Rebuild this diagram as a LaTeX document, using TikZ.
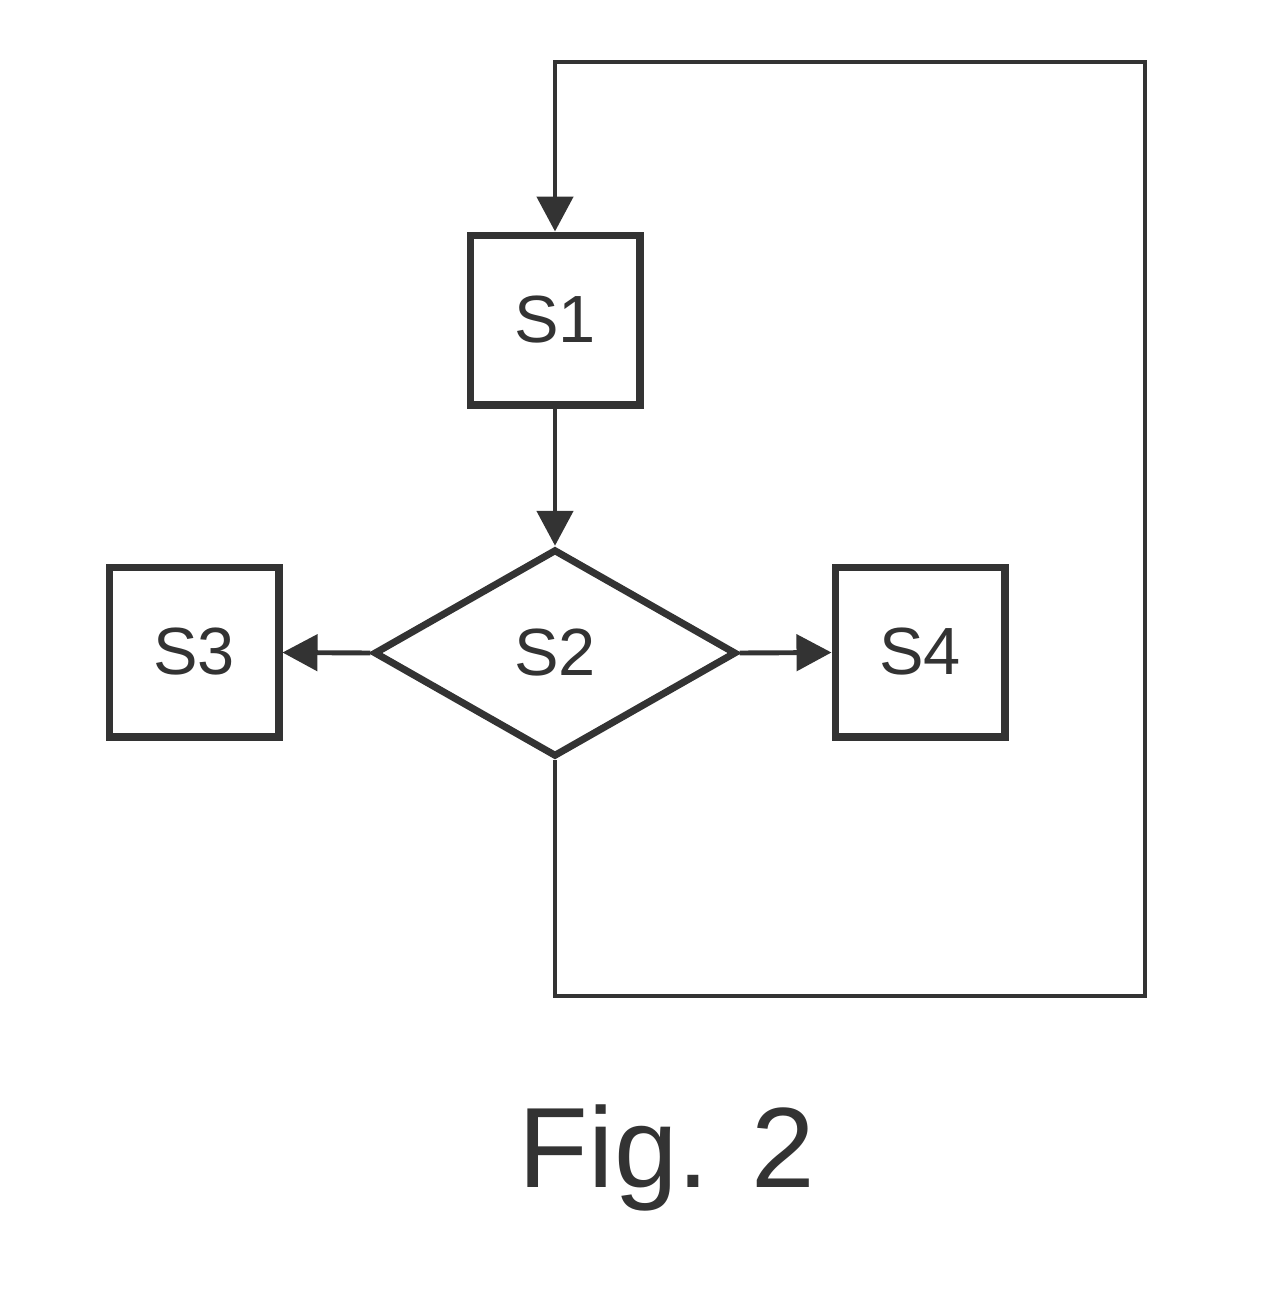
\documentclass[tikz,border=0pt]{standalone}
\usepackage{fontspec}
\setmainfont{Liberation Sans}
\usetikzlibrary{positioning, arrows.meta, shapes.geometric}

\definecolor{ink}{HTML}{333333}
\tikzset{
  stepbox/.style={rectangle, draw=ink, line width=4pt, minimum width=3.4cm, minimum height=3.4cm, inner sep=0pt, text=ink, font=\fontsize{38}{40}\selectfont},
  decision/.style={diamond, draw=ink, line width=4pt, minimum width=7.25cm, minimum height=4.15cm, inner sep=0pt, text=ink, font=\fontsize{38}{40}\selectfont},
  flow/.style={draw=ink, line width=2.8pt, -{Triangle[length=0.7cm, width=0.72cm]}},
}

\begin{document}
\begin{tikzpicture}[x=0.02cm, y=-0.02cm]
  \useasboundingbox (0,0) rectangle (1266,1298);

  \node[stepbox] (s1) at (555, 320) {S1};
  \node[decision] (s2) at (555, 653) {S2};
  \node[stepbox] (s3) at (194, 652) {S3};
  \node[stepbox] (s4) at (920, 652) {S4};

  \coordinate (br) at (1145, 996);
  \coordinate (tr) at (1145, 62);

  \draw[flow] (s1) -- (s2);
  \draw[flow] (s2.west) -- (s3);
  \draw[flow] (s2.east) -- (s4);
  \draw[flow, line join=miter] (s2.south) |- (br) -- (tr) -| (s1.north);

  \node[text=ink, font=\fontsize{65}{70}\selectfont] (fig) at (667, 1158) {Fig. 2};
\end{tikzpicture}
\end{document}
